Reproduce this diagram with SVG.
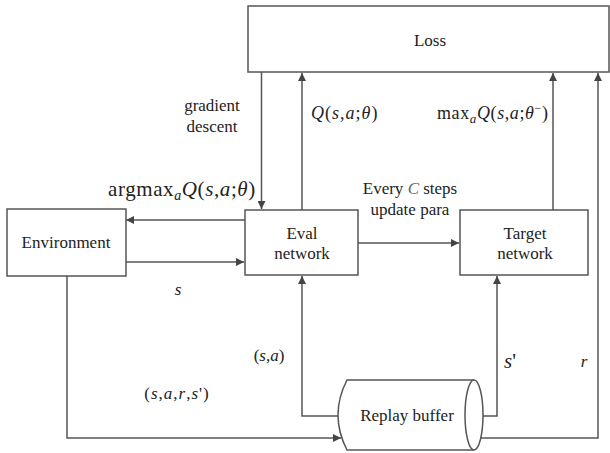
<svg xmlns="http://www.w3.org/2000/svg" width="610" height="453" viewBox="0 0 610 453">
<style>
.box{fill:#fff;stroke:#555;stroke-width:1.5}
.ln{fill:none;stroke:#555;stroke-width:1.5}
</style>
<defs>
<marker id="ah" viewBox="0 0 10 10" refX="10" refY="5" markerWidth="9" markerHeight="8" markerUnits="userSpaceOnUse" orient="auto">
<path d="M0,0 L10,5 L0,10 Z" fill="#444"/>
</marker>
</defs>
<rect width="610" height="453" fill="#fff"/>
<g id="connectors">
<path class="ln" d="M261.5,72 V209" marker-end="url(#ah)"/>
<path class="ln" d="M302,210 V73" marker-end="url(#ah)"/>
<path class="ln" d="M553,210 V73" marker-end="url(#ah)"/>
<path class="ln" d="M478,438 H598 V73" marker-end="url(#ah)"/>
<path class="ln" d="M245,220 H126" marker-end="url(#ah)"/>
<path class="ln" d="M126,262 H244" marker-end="url(#ah)"/>
<path class="ln" d="M358,243 H459" marker-end="url(#ah)"/>
<path class="ln" d="M67,276 V438 H341" marker-end="url(#ah)"/>
<path class="ln" d="M338,416 H302 V276" marker-end="url(#ah)"/>
<path class="ln" d="M483,416 H497 V276" marker-end="url(#ah)"/>
</g>
<g id="loss">
<rect class="box" x="248" y="6" width="361" height="66"/>
<text x="430" y="46" font-family="'Liberation Serif', serif" font-size="17" fill="#222" text-anchor="middle">Loss</text>
</g>
<g id="environment">
<rect class="box" x="7" y="209" width="119" height="67"/>
<text x="66" y="248" font-family="'Liberation Serif', serif" font-size="17" fill="#222" text-anchor="middle">Environment</text>
</g>
<g id="eval">
<rect class="box" x="245" y="210" width="113" height="65"/>
<text x="302" y="239" font-family="'Liberation Serif', serif" font-size="17" fill="#222" text-anchor="middle">Eval</text>
<text x="302" y="259" font-family="'Liberation Serif', serif" font-size="17" fill="#222" text-anchor="middle">network</text>
</g>
<g id="target">
<rect class="box" x="460" y="210" width="128" height="65"/>
<text x="525" y="239" font-family="'Liberation Serif', serif" font-size="17" fill="#222" text-anchor="middle">Target</text>
<text x="525" y="259" font-family="'Liberation Serif', serif" font-size="17" fill="#222" text-anchor="middle">network</text>
</g>
<g id="replay">
<path class="box" d="M347,380 H474 A9,35 0 0 1 474,450 H347 Q329,415 347,380 Z"/>
<path class="ln" d="M474,380 A9,35 0 0 0 474,450"/>
<text x="407" y="421" font-family="'Liberation Serif', serif" font-size="17" fill="#222" text-anchor="middle">Replay buffer</text>
</g>
<g id="labels" font-family="'Liberation Serif', serif" fill="#222">
<text x="212" y="111" font-family="'Liberation Serif', serif" font-size="17" text-anchor="middle">gradient</text>
<text x="212" y="132" font-family="'Liberation Serif', serif" font-size="17" text-anchor="middle">descent</text>
<text x="311" y="119" font-family="'Liberation Serif', serif" font-size="18" letter-spacing="1"><tspan font-style="italic">Q</tspan>(<tspan font-style="italic">s</tspan>,<tspan font-style="italic">a</tspan>;<tspan font-style="italic">θ</tspan>)</text>
<text x="437" y="119" font-family="'Liberation Serif', serif" font-size="18" letter-spacing="0.6">max<tspan font-style="italic" font-size="13" dy="4">a</tspan><tspan font-style="italic" font-size="18" dy="-4">Q</tspan>(<tspan font-style="italic">s</tspan>,<tspan font-style="italic">a</tspan>;<tspan font-style="italic">θ</tspan><tspan font-size="12" dy="-7">−</tspan><tspan font-size="18" dy="7">)</tspan></text>
<text x="108" y="196" font-family="'Liberation Serif', serif" font-size="21" letter-spacing="0.6">argmax<tspan font-style="italic" font-size="14" dy="4">a</tspan><tspan font-style="italic" font-size="21" dy="-4">Q</tspan>(<tspan font-style="italic">s</tspan>,<tspan font-style="italic">a</tspan>;<tspan font-style="italic">θ</tspan>)</text>
<text x="410" y="194" font-family="'Liberation Serif', serif" font-size="17" text-anchor="middle">Every <tspan font-style="italic" fill="#666">C</tspan> steps</text>
<text x="410" y="215" font-family="'Liberation Serif', serif" font-size="17" text-anchor="middle">update para</text>
<text x="178" y="295" font-family="'Liberation Serif', serif" font-size="17" font-style="italic" text-anchor="middle">s</text>
<text x="269" y="361" font-family="'Liberation Serif', serif" font-size="17" text-anchor="middle">(<tspan font-style="italic">s</tspan>,<tspan font-style="italic">a</tspan>)</text>
<text x="510" y="368" font-family="'Liberation Serif', serif" font-size="21" text-anchor="middle"><tspan font-style="italic">s</tspan>'</text>
<text x="584" y="367" font-family="'Liberation Serif', serif" font-size="17" font-style="italic" text-anchor="middle">r</text>
<text x="177" y="399" font-family="'Liberation Serif', serif" font-size="17" letter-spacing="1" text-anchor="middle">(<tspan font-style="italic">s</tspan>,<tspan font-style="italic">a</tspan>,<tspan font-style="italic">r</tspan>,<tspan font-style="italic">s</tspan>')</text>
</g>
</svg>
